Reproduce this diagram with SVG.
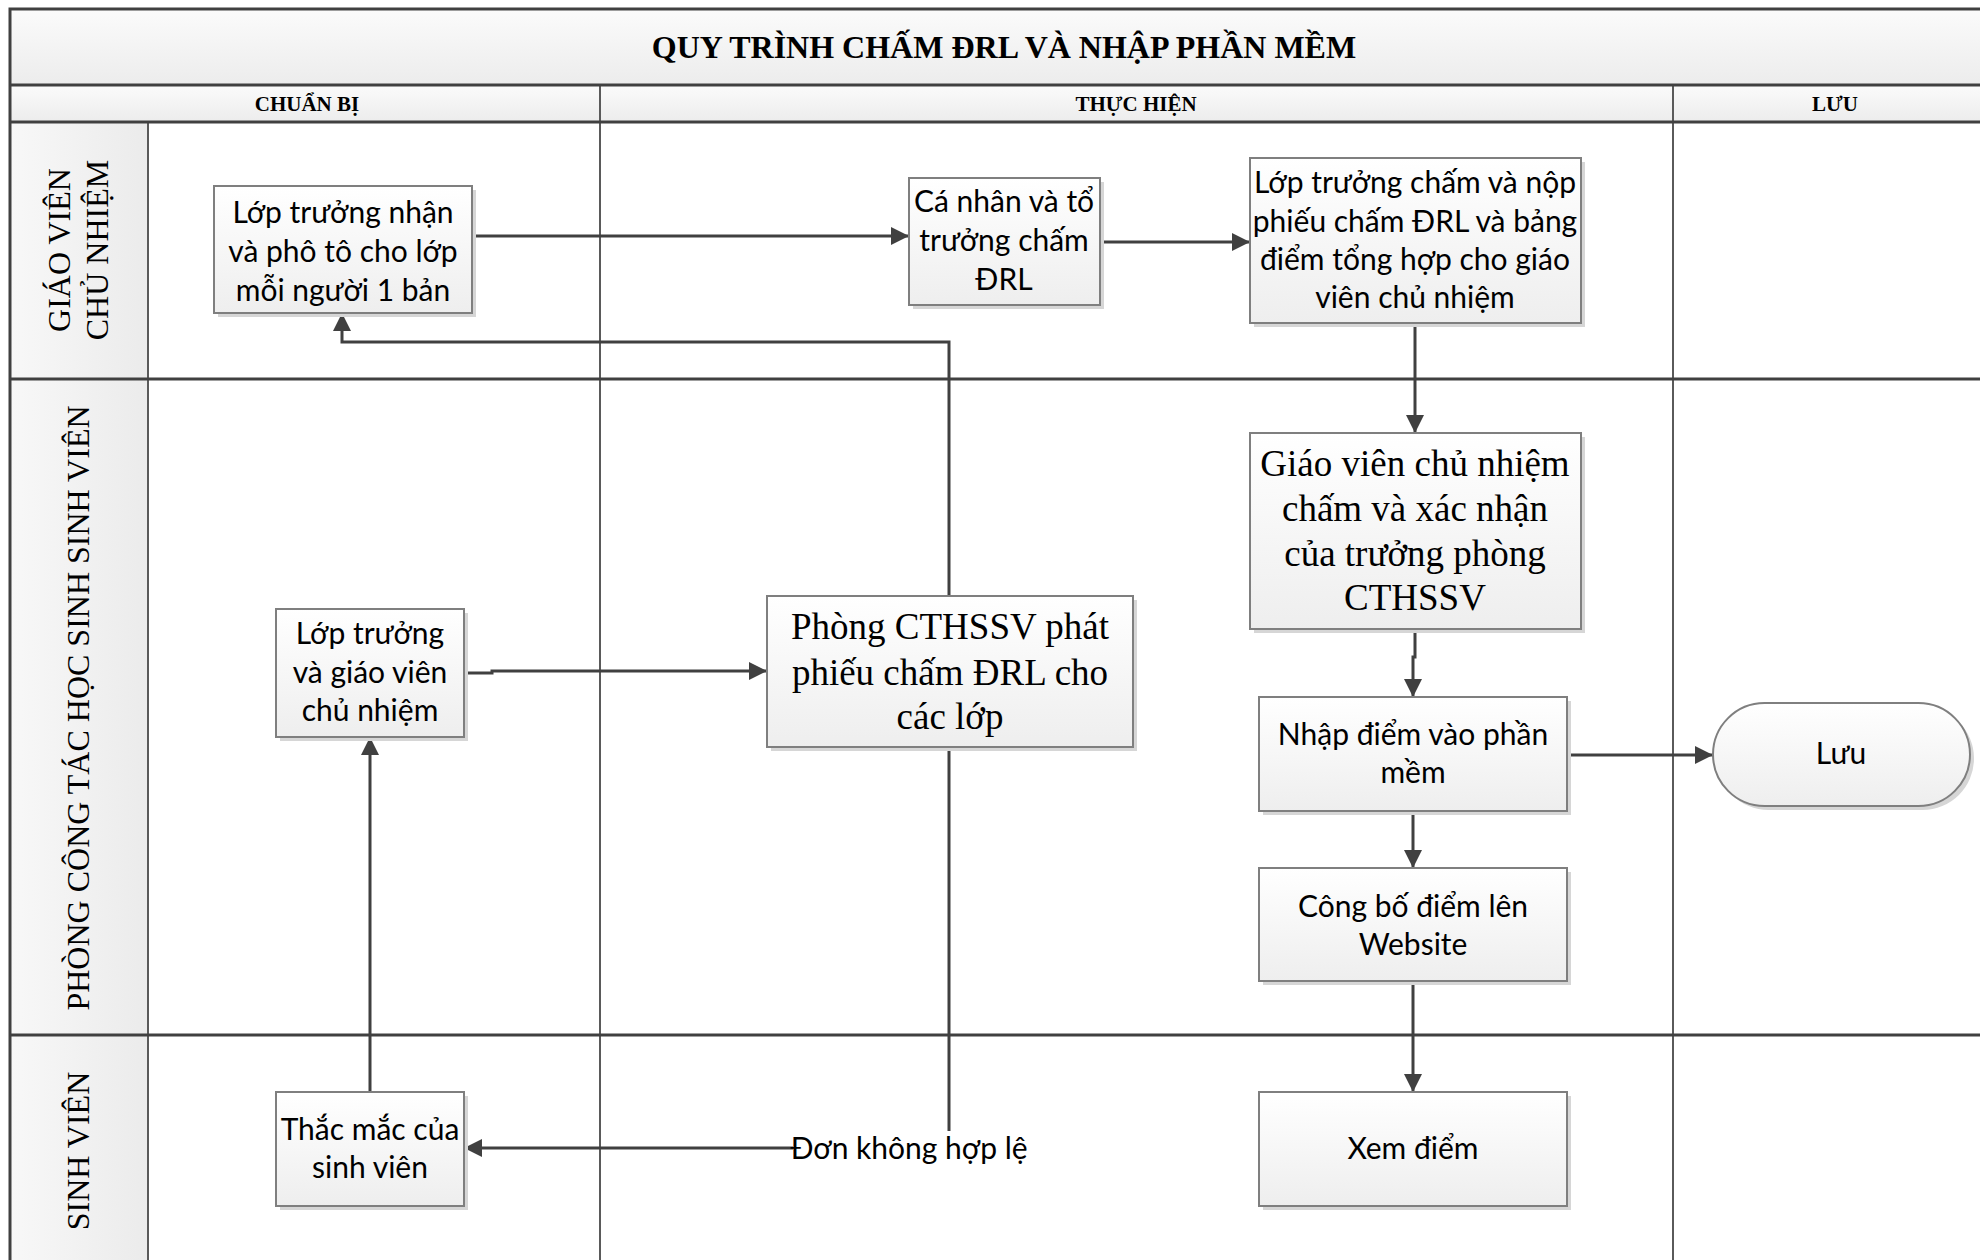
<svg xmlns="http://www.w3.org/2000/svg" width="1980" height="1260" viewBox="0 0 1980 1260">
<defs>
<linearGradient id="gBox" x1="0" y1="0" x2="0" y2="1"><stop offset="0" stop-color="#ffffff"/><stop offset="1" stop-color="#eeeeee"/></linearGradient>
<linearGradient id="gHead" x1="0" y1="0" x2="0" y2="1"><stop offset="0" stop-color="#fbfbfb"/><stop offset="1" stop-color="#ececec"/></linearGradient>
<linearGradient id="gLane" x1="0" y1="0" x2="1" y2="0"><stop offset="0" stop-color="#f8f8f8"/><stop offset="1" stop-color="#ebebeb"/></linearGradient>
<marker id="arr" markerUnits="userSpaceOnUse" markerWidth="20" markerHeight="18" refX="18" refY="9" orient="auto"><path d="M0,0 L18,9 L0,18 Z" fill="#404040"/></marker>
<style>
.frame{fill:none;stroke:#404040;stroke-width:3}
.lane{stroke:#404040;stroke-width:3}
.col{stroke:#5a5a5a;stroke-width:2}
.box{fill:url(#gBox);stroke:#7f7f7f;stroke-width:2}
.shadow{fill:#d6d6d6}
.t{font-family:Lato,"Open Sans",sans-serif;font-size:30px;fill:#000;text-anchor:middle}
.ts{font-family:"Liberation Serif","Times New Roman",serif;font-size:37px;fill:#000;text-anchor:middle}
.title{font-family:"Liberation Serif","Times New Roman",serif;font-size:32px;font-weight:bold;text-anchor:middle}
.hd{font-family:"Liberation Serif","Times New Roman",serif;font-size:21px;font-weight:bold;text-anchor:middle}
.ln{font-family:"Liberation Serif","Times New Roman",serif;font-size:32px;text-anchor:middle}
.c{fill:none;stroke:#404040;stroke-width:3}
</style>
</defs>
<rect x="0" y="0" width="1980" height="1260" fill="#ffffff"/>
<g id="pool">
<rect x="10" y="9" width="2000" height="76" fill="url(#gHead)"/>
<rect x="10" y="85" width="2000" height="37" fill="url(#gHead)"/>
<rect x="10" y="122" width="138" height="1160" fill="url(#gLane)"/>
<line class="col" x1="600" y1="85" x2="600" y2="1270"/>
<line class="col" x1="1673" y1="85" x2="1673" y2="1270"/>
<line class="col" x1="148" y1="122" x2="148" y2="1270"/>
<line class="lane" x1="10" y1="85" x2="2000" y2="85"/>
<line class="lane" x1="10" y1="122" x2="2000" y2="122"/>
<line class="lane" x1="10" y1="379" x2="2000" y2="379"/>
<line class="lane" x1="10" y1="1035" x2="2000" y2="1035"/>
<rect class="frame" x="10" y="9" width="2000" height="1280"/>
<text class="title" x="1004" y="58">QUY TRÌNH CHẤM ĐRL VÀ NHẬP PHẦN MỀM</text>
<text class="hd" x="307" y="111">CHUẨN BỊ</text>
<text class="hd" x="1136" y="111">THỰC HIỆN</text>
<text class="hd" x="1835" y="111">LƯU</text>
<text class="ln" transform="translate(59,250) rotate(-90)" dy="11">GIÁO VIÊN</text>
<text class="ln" transform="translate(97,250) rotate(-90)" dy="11">CHỦ NHIỆM</text>
<text class="ln" transform="translate(78,708) rotate(-90)" dy="11">PHÒNG CÔNG TÁC HỌC SINH SINH VIÊN</text>
<text class="ln" transform="translate(78,1151) rotate(-90)" dy="11">SINH VIÊN</text>
</g>
<g id="connectors">
<path class="c" d="M458,227 H465 V236 H909" marker-end="url(#arr)"/>
<path class="c" d="M1100,242 H1250" marker-end="url(#arr)"/>
<path class="c" d="M1415,323 V433" marker-end="url(#arr)"/>
<path class="c" d="M1415,629 V657 H1413 V697" marker-end="url(#arr)"/>
<path class="c" d="M1567,755 H1713" marker-end="url(#arr)"/>
<path class="c" d="M1413,811 V868" marker-end="url(#arr)"/>
<path class="c" d="M1413,981 V1092" marker-end="url(#arr)"/>
<path class="c" d="M464,673 H492 V671 H767" marker-end="url(#arr)"/>
<path class="c" d="M370,1092 V737" marker-end="url(#arr)"/>
<path class="c" d="M949,596 V342 H342 V313" marker-end="url(#arr)"/>
<path class="c" d="M949,747 V1148 H464" marker-end="url(#arr)"/>
<rect x="793" y="1131" width="232" height="36" fill="#ffffff"/>
<text class="t" x="909" y="1159">Đơn không hợp lệ</text>
</g>
<g id="n1">
<rect class="shadow" x="218" y="190" width="258" height="127"/>
<rect class="box" x="214" y="186" width="258" height="127"/>
<text class="t" x="343" y="223">Lớp trưởng nhận</text>
<text class="t" x="343" y="262">và phô tô cho lớp</text>
<text class="t" x="343" y="301">mỗi người 1 bản</text>
</g>
<g id="n2">
<rect class="shadow" x="913" y="182" width="191" height="127"/>
<rect class="box" x="909" y="178" width="191" height="127"/>
<text class="t" x="1004" y="212">Cá nhân và tổ</text>
<text class="t" x="1004" y="251">trưởng chấm</text>
<text class="t" x="1004" y="290">ĐRL</text>
</g>
<g id="n3">
<rect class="shadow" x="1254" y="162" width="331" height="165"/>
<rect class="box" x="1250" y="158" width="331" height="165"/>
<text class="t" x="1415" y="193">Lớp trưởng chấm và nộp</text>
<text class="t" x="1415" y="232">phiếu chấm ĐRL và bảng</text>
<text class="t" x="1415" y="270">điểm tổng hợp cho giáo</text>
<text class="t" x="1415" y="308">viên chủ nhiệm</text>
</g>
<g id="n4">
<rect class="shadow" x="1254" y="437" width="331" height="196"/>
<rect class="box" x="1250" y="433" width="331" height="196"/>
<text class="ts" x="1415" y="476">Giáo viên chủ nhiệm</text>
<text class="ts" x="1415" y="521">chấm và xác nhận</text>
<text class="ts" x="1415" y="566">của trưởng phòng</text>
<text class="ts" x="1415" y="610">CTHSSV</text>
</g>
<g id="n5">
<rect class="shadow" x="771" y="600" width="366" height="151"/>
<rect class="box" x="767" y="596" width="366" height="151"/>
<text class="ts" x="950" y="639">Phòng CTHSSV phát</text>
<text class="ts" x="950" y="685">phiếu chấm ĐRL cho</text>
<text class="ts" x="950" y="729">các lớp</text>
</g>
<g id="n6">
<rect class="shadow" x="280" y="613" width="188" height="128"/>
<rect class="box" x="276" y="609" width="188" height="128"/>
<text class="t" x="370" y="644">Lớp trưởng</text>
<text class="t" x="370" y="683">và giáo viên</text>
<text class="t" x="370" y="721">chủ nhiệm</text>
</g>
<g id="n7">
<rect class="shadow" x="1263" y="701" width="308" height="114"/>
<rect class="box" x="1259" y="697" width="308" height="114"/>
<text class="t" x="1413" y="745">Nhập điểm vào phần</text>
<text class="t" x="1413" y="783">mềm</text>
</g>
<g id="n8">
<rect class="shadow" x="1717" y="707" width="257" height="103" rx="51.5"/>
<rect class="box" x="1713" y="703" width="257" height="103" rx="51.5"/>
<text class="t" x="1841" y="764">Lưu</text>
</g>
<g id="n9">
<rect class="shadow" x="1263" y="872" width="308" height="113"/>
<rect class="box" x="1259" y="868" width="308" height="113"/>
<text class="t" x="1413" y="917">Công bố điểm lên</text>
<text class="t" x="1413" y="955">Website</text>
</g>
<g id="n10">
<rect class="shadow" x="280" y="1096" width="188" height="114"/>
<rect class="box" x="276" y="1092" width="188" height="114"/>
<text class="t" x="370" y="1140">Thắc mắc của</text>
<text class="t" x="370" y="1178">sinh viên</text>
</g>
<g id="n11">
<rect class="shadow" x="1263" y="1096" width="308" height="114"/>
<rect class="box" x="1259" y="1092" width="308" height="114"/>
<text class="t" x="1413" y="1159">Xem điểm</text>
</g>
</svg>
